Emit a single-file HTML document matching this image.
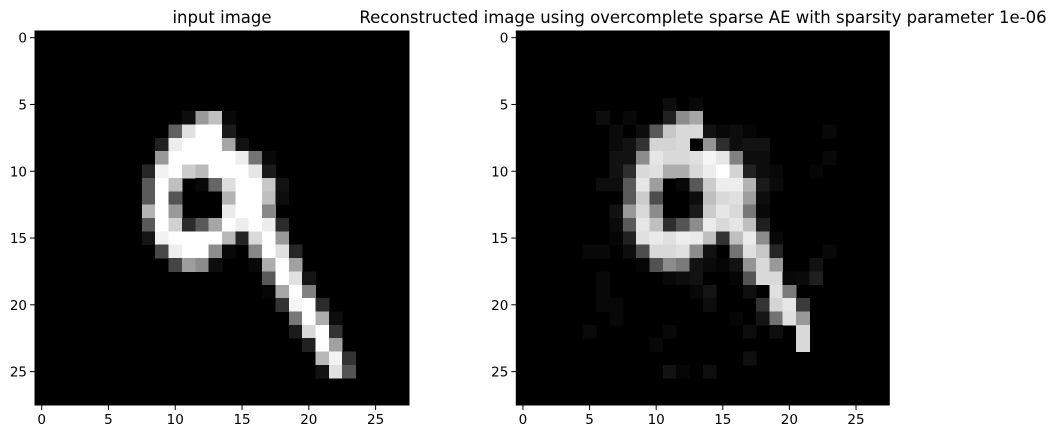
<!DOCTYPE html>
<html><head><meta charset="utf-8">
<style>
html,body{margin:0;padding:0;background:#fff;}
svg{display:block;font-family:"DejaVu Sans","Liberation Sans",sans-serif;}
</style></head>
<body>
<svg id="fig" width="1058" height="435" viewBox="0 0 1058 435" xmlns="http://www.w3.org/2000/svg">
<rect width="1058" height="435" fill="#fff"/>
<text x="222" y="23" font-size="16.5" text-anchor="middle" fill="#000">input image</text>
<text x="703" y="23" font-size="16.5" text-anchor="middle" fill="#000">Reconstructed image using overcomplete sparse AE with sparsity parameter 1e-06</text>
<g id="left"></g>
<g id="right"></g>
</svg>
<script>
const gridSize = 28;
const tickValues = [0, 5, 10, 15, 20, 25];
const inputPixels = [
[6,11,0.05],[6,12,0.6],[6,13,0.75],[6,14,0.03],
[7,10,0.38],[7,11,0.88],[7,12,1],[7,13,1],[7,14,0.1],
[8,9,0.13],[8,10,0.93],[8,11,1],[8,12,1],[8,13,1],[8,14,0.65],[8,15,0.07],
[9,9,0.6],[9,10,1],[9,11,1],[9,12,1],[9,13,1],[9,14,1],[9,15,0.93],[9,16,0.45],[9,17,0.03],
[10,8,0.15],[10,9,0.95],[10,10,1],[10,11,0.8],[10,12,0.73],[10,13,1],[10,14,1],[10,15,1],[10,16,0.9],[10,17,0.1],
[11,8,0.35],[11,9,1],[11,10,0.75],[11,12,0.03],[11,13,0.4],[11,14,0.87],[11,15,1],[11,16,1],[11,17,0.78],[11,18,0.07],
[12,8,0.35],[12,9,1],[12,10,0.33],[12,14,0.7],[12,15,1],[12,16,1],[12,17,0.75],[12,18,0.05],
[13,8,0.7],[13,9,1],[13,10,0.6],[13,14,0.92],[13,15,1],[13,16,1],[13,17,0.53],
[14,8,0.35],[14,9,1],[14,10,0.82],[14,11,0.17],[14,12,0.35],[14,13,0.65],[14,14,1],[14,15,0.93],[14,16,1],[14,17,0.93],[14,18,0.17],
[15,8,0.08],[15,9,0.95],[15,10,1],[15,11,1],[15,12,1],[15,13,1],[15,14,0.72],[15,15,0.14],[15,16,0.85],[15,17,1],[15,18,0.6],
[16,9,0.28],[16,10,0.93],[16,11,1],[16,12,1],[16,13,0.55],[16,14,0.03],[16,16,0.53],[16,17,1],[16,18,0.88],[16,19,0.15],
[17,10,0.27],[17,11,0.62],[17,12,0.55],[17,13,0.05],[17,16,0.03],[17,17,0.68],[17,18,1],[17,19,0.63],
[18,17,0.35],[18,18,1],[18,19,0.88],[18,20,0.08],
[19,17,0.02],[19,18,0.65],[19,19,1],[19,20,0.5],
[20,18,0.2],[20,19,0.96],[20,20,1],[20,21,0.17],
[21,19,0.47],[21,20,1],[21,21,0.68],[21,22,0.05],
[22,19,0.1],[22,20,0.85],[22,21,1],[22,22,0.2],
[23,20,0.13],[23,21,1],[23,22,0.63],
[24,21,0.72],[24,22,0.95],[24,23,0.2],
[25,21,0.07],[25,22,0.88],[25,23,0.33]
];
const reconPixels = [
[5,11,0.05],[5,13,0.03],
[6,6,0.05],[6,8,0.03],[6,11,0.13],[6,12,0.55],[6,13,0.65],
[7,7,0.04],[7,9,0.05],[7,10,0.35],[7,11,0.78],[7,12,0.85],[7,13,0.85],[7,14,0.07],[7,15,0.03],[7,16,0.05],[7,17,0.02],[7,23,0.03],
[8,7,0.04],[8,8,0.07],[8,9,0.2],[8,10,0.83],[8,11,0.83],[8,12,0.85],[8,14,0.58],[8,15,0.18],[8,16,0.05],[8,17,0.07],[8,18,0.07],
[9,7,0.07],[9,8,0.07],[9,9,0.55],[9,10,0.9],[9,11,0.85],[9,12,0.85],[9,13,0.88],[9,14,0.96],[9,15,0.9],[9,16,0.5],[9,17,0.05],[9,18,0.05],[9,23,0.03],
[10,7,0.07],[10,8,0.18],[10,9,0.85],[10,10,0.88],[10,11,0.68],[10,12,0.68],[10,13,0.85],[10,14,0.93],[10,15,1],[10,16,0.83],[10,17,0.13],[10,18,0.05],[10,19,0.03],[10,22,0.02],
[11,6,0.05],[11,7,0.05],[11,8,0.35],[11,9,0.9],[11,10,0.62],[11,12,0.03],[11,13,0.35],[11,14,0.8],[11,15,0.93],[11,16,0.93],[11,17,0.7],[11,18,0.1],[11,19,0.04],
[12,8,0.35],[12,9,0.8],[12,10,0.3],[12,13,0.05],[12,14,0.75],[12,15,0.85],[12,16,0.88],[12,17,0.62],[12,18,0.05],
[13,7,0.07],[13,8,0.6],[13,9,0.85],[13,10,0.55],[13,13,0.1],[13,14,0.8],[13,15,0.9],[13,16,0.85],[13,17,0.47],[13,18,0.03],
[14,7,0.04],[14,8,0.35],[14,9,0.9],[14,10,0.75],[14,11,0.18],[14,12,0.33],[14,13,0.55],[14,14,0.92],[14,15,0.85],[14,16,0.9],[14,17,0.75],[14,18,0.12],
[15,7,0.02],[15,8,0.13],[15,9,0.88],[15,10,0.92],[15,11,0.88],[15,12,0.93],[15,13,0.92],[15,14,0.75],[15,15,0.2],[15,16,0.75],[15,17,0.92],[15,18,0.55],[15,19,0.03],
[16,5,0.03],[16,6,0.03],[16,8,0.05],[16,9,0.3],[16,10,0.85],[16,11,0.85],[16,12,0.88],[16,13,0.55],[16,14,0.07],[16,16,0.45],[16,17,0.88],[16,18,0.78],[16,19,0.15],[16,23,0.03],
[17,9,0.02],[17,10,0.32],[17,11,0.55],[17,12,0.48],[17,13,0.07],[17,14,0.04],[17,15,0.02],[17,16,0.07],[17,17,0.58],[17,18,0.85],[17,19,0.6],[17,22,0.07],
[18,6,0.03],[18,11,0.03],[18,12,0.05],[18,13,0.07],[18,16,0.02],[18,17,0.33],[18,18,0.85],[18,19,0.85],[18,20,0.03],[18,21,0.04],[18,22,0.12],
[19,6,0.03],[19,13,0.03],[19,14,0.08],[19,17,0.06],[19,19,0.88],[19,20,0.48],
[20,6,0.03],[20,7,0.03],[20,14,0.05],[20,18,0.2],[20,19,0.83],[20,20,0.9],[20,21,0.23],
[21,7,0.03],[21,16,0.02],[21,18,0.08],[21,19,0.45],[21,20,0.88],[21,21,0.6],
[22,5,0.04],[22,11,0.03],[22,17,0.05],[22,19,0.05],[22,21,0.85],
[23,10,0.03],[23,21,0.85],
[24,17,0.06],
[25,11,0.07],[25,12,0.02],[25,14,0.06]
];
const NS = "http://www.w3.org/2000/svg";
function mk(tag, attrs, parent){
  const e = document.createElementNS(NS, tag);
  for (const k in attrs) e.setAttribute(k, attrs[k]);
  parent.appendChild(e);
  return e;
}
function drawPanel(g, pixels, x0, y0, w, h){
  const cw = w / gridSize, ch = h / gridSize;
  const xs = c => x0 + c * cw;
  const ys = r => y0 + r * ch;
  const bg = mk('rect', {x:x0, y:y0, width:w, height:h, fill:'#000'}, g);
  
  
  pixels.forEach(p => {
    const v = Math.round(Math.max(0, Math.min(1, p[2])) * 255);
    const r = mk('rect', {x:xs(p[1]), y:ys(p[0]), width:cw+0.4, height:ch+0.4, fill:`rgb(${v},${v},${v})`, 'shape-rendering':'crispEdges'}, g);
    
    
  });
  const frame = mk('rect', {x:x0, y:y0, width:w, height:h, fill:'none', stroke:'#000', 'stroke-width':1}, g);
  
  
  tickValues.forEach(t => {
    const cx = xs(t + 0.5);
    const xl = mk('line', {x1:cx, y1:y0+h, x2:cx, y2:y0+h+5, stroke:'#000', 'stroke-width':1}, g);
    
    
    const xt = mk('text', {x:cx, y:y0+h+19, 'font-size':13.5, 'text-anchor':'middle', fill:'#000'}, g);
    
    
    xt.textContent = t;
    const cy = ys(t + 0.5);
    const yl = mk('line', {x1:x0-5, y1:cy, x2:x0, y2:cy, stroke:'#000', 'stroke-width':1}, g);
    
    
    const yt = mk('text', {x:x0-8, y:cy+5, 'font-size':13.5, 'text-anchor':'end', fill:'#000'}, g);
    
    
    yt.textContent = t;
  });
}
drawPanel(document.getElementById('left'), inputPixels, 35, 31, 374, 374);
drawPanel(document.getElementById('right'), reconPixels, 516.3, 31, 373, 374);
</script>
</body></html>
